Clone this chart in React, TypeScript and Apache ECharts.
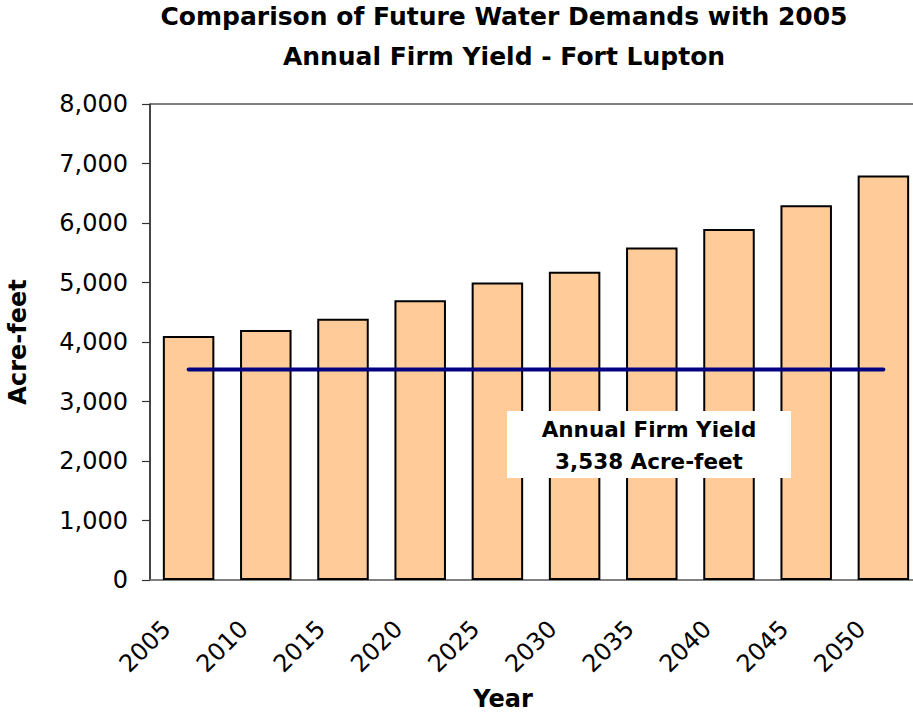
import React, { useEffect, useRef } from "react";
import * as echarts from "echarts";

const years: string[] = ["2005", "2010", "2015", "2020", "2025", "2030", "2035", "2040", "2045", "2050"];
const demands: number[] = [4100, 4200, 4390, 4700, 5000, 5180, 5590, 5900, 6300, 6800];
const firmYield = 3538;
const yTicks = { min: 0, max: 8000, interval: 1000 };
const titleLines: string[] = ["Comparison of Future Water Demands with 2005", "Annual Firm Yield - Fort Lupton"];
const yAxisName = "Acre-feet";
const xAxisName = "Year";
const annotationTitle = "Annual Firm Yield";

const FONT = "DejaVu Sans";
const fmt = (v: number) => v.toLocaleString("en-US");

export default function App() {
  const ref = useRef<HTMLDivElement>(null);
  useEffect(() => {
    if (!ref.current) return;
    const chart = echarts.init(ref.current, undefined, { renderer: "svg" });
    chart.setOption({
      animation: false,
      backgroundColor: "#ffffff",
      textStyle: { fontFamily: FONT },
      title: {
        text: titleLines.join("\n"),
        left: 499,
        top: -9,
        textAlign: "center",
        textStyle: { fontFamily: FONT, fontSize: 25, fontWeight: "bold", color: "#000", lineHeight: 40 },
      },
      grid: {
        left: 150,
        top: 104,
        width: 772,
        height: 476,
        outerBoundsMode: "none",
        containLabel: false,
        show: true,
        borderColor: "#000",
        borderWidth: 1,
        backgroundColor: "transparent",
      },
      xAxis: {
        type: "category",
        data: years,
        name: xAxisName,
        nameLocation: "middle",
        nameGap: 107,
        nameTextStyle: { fontFamily: FONT, fontSize: 24, fontWeight: "bold", color: "#000", padding: [0, 66, 0, 0] },
        axisLine: { lineStyle: { color: "#808080", width: 1.5 } },
        axisTick: { show: false },
        axisLabel: {
          interval: 0,
          rotate: 45,
          margin: 23,
          padding: [0, 31, 0, 0],
          fontFamily: FONT,
          fontSize: 24,
          color: "#000",
        },
        splitLine: { show: false },
      },
      yAxis: {
        type: "value",
        min: yTicks.min,
        max: yTicks.max,
        interval: yTicks.interval,
        name: yAxisName,
        nameLocation: "middle",
        nameRotate: 90,
        nameGap: 120,
        nameTextStyle: { fontFamily: FONT, fontSize: 24, fontWeight: "bold", color: "#000" },
        axisLine: { show: true, lineStyle: { color: "#333", width: 1.5 } },
        axisTick: { show: true, length: 8, lineStyle: { color: "#333", width: 1.2 } },
        axisLabel: { margin: 22, fontFamily: FONT, fontSize: 24, color: "#000", formatter: (v: number) => fmt(v) },
        splitLine: { show: false },
      },
      series: [
        {
          type: "bar",
          data: demands,
          barCategoryGap: "33.3%",
          itemStyle: { color: "#FFCC99", borderColor: "#000", borderWidth: 2 },
        },
        {
          type: "line",
          data: years.map(() => firmYield),
          showSymbol: false,
          symbol: "none",
          lineStyle: { color: "#000080", width: 4, cap: "round" },
          z: 3,
        },
      ],
      graphic: [
        {
          type: "group",
          left: 507,
          top: 411,
          z: 100,
          children: [
            { type: "rect", z: 100, shape: { x: 0, y: 0, width: 284, height: 67 }, style: { fill: "#fff" } },
            {
              type: "text",
              z: 101,
              x: 142,
              y: 18,
              style: {
                text: annotationTitle,
                fontFamily: FONT,
                fontSize: 21.5,
                fontWeight: "bold",
                fill: "#000",
                align: "center",
                verticalAlign: "middle",
              },
            },
            {
              type: "text",
              z: 101,
              x: 142,
              y: 50,
              style: {
                text: `${fmt(firmYield)} Acre-feet`,
                fontFamily: FONT,
                fontSize: 21.5,
                fontWeight: "bold",
                fill: "#000",
                align: "center",
                verticalAlign: "middle",
              },
            },
          ],
        },
      ],
    });
    return () => chart.dispose();
  }, []);
  return (
    <div
      ref={ref}
      style={{ position: "fixed", left: 0, top: 0, width: 913, height: 713, background: "#fff" }}
    />
  );
}
